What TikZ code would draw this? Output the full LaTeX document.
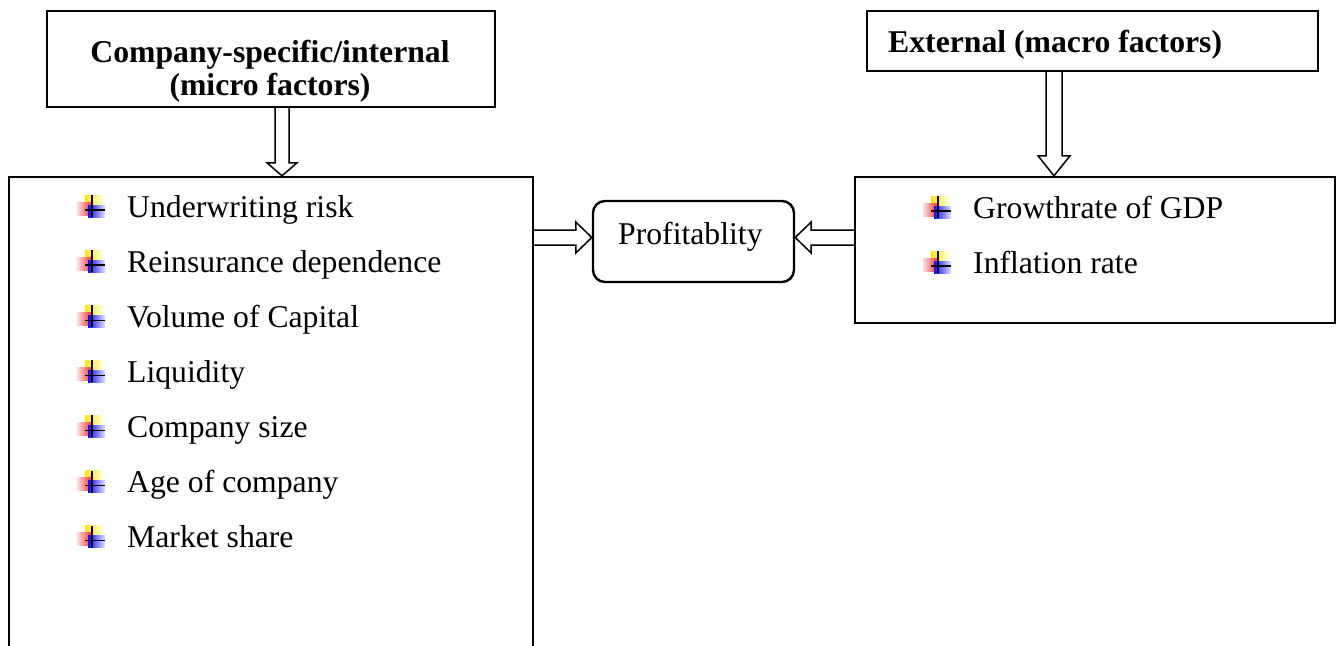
\documentclass[tikz,border=0pt]{standalone}
\usepackage{fontspec}
\setmainfont{Liberation Serif}
\usetikzlibrary{calc}
\begin{document}
\begin{tikzpicture}[x=1pt,y=-1pt,
 box/.style={draw, line width=2.4pt, inner sep=0pt},
 fatarrow/.style={draw, line width=1.5pt, fill=white, line join=miter},
 item/.style={anchor=base west, inner sep=0pt, font=\fontsize{31.7}{38}\selectfont},
 ttl/.style={anchor=base, inner sep=0pt, font=\fontsize{31.7}{38}\selectfont\bfseries},
 pics/bul/.style={code={
   \shade[left color=yellow!80!orange, right color=yellow!12] (-7,-22) rectangle (11,-9);
   \shade[left color=red!12, right color=red!85] (-15,-15) rectangle (0,-2);
   \shade[left color=blue!95, right color=blue!12] (-4,-12) rectangle (13,0);
   \draw[line width=1.4pt] (0,-22) -- (0,0) (-7,-7) -- (13,-7);
 }}]
\clip (0,0) rectangle (1337,645);
\fill[white] (0,0) rectangle (1337,645);
% boxes
\node[box, minimum width=448, minimum height=96] (ltitle) at (271,59) {};
\node[box, minimum width=451, minimum height=60] (rtitle) at (1092.5,41) {};
\node[box, minimum width=524, minimum height=523] (lbox) at (271,438.5) {};
\node[box, minimum width=480, minimum height=146] (rbox) at (1095,250) {};
\node[box, rounded corners=12, minimum width=201, minimum height=81] (profit) at (693.5,241.5) {};
% titles
\node[ttl] (lt1) at (270,62) {Company-specific/internal};
\node[ttl] (lt2) at (270,95) {(micro factors)};
\node[ttl, anchor=base west] (rt1) at (888,52) {External (macro factors)};
\node[item] (ptext) at (618,244) {Profitablity};
% items
\foreach \t [count=\i from 0] in {Underwriting risk, Reinsurance dependence, Volume of Capital, Liquidity, Company size, Age of company, Market share}{
  \pgfmathsetmacro\yy{217+55.1*\i}
  \pic at (92,\yy) {bul};
  \node[item] (li\i) at (127,\yy) {\t};
}
\foreach \t [count=\i from 0] in {Growthrate of GDP, Inflation rate}{
  \pgfmathsetmacro\yy{218+55*\i}
  \pic at (938,\yy) {bul};
  \node[item] (ri\i) at (973,\yy) {\t};
}
% arrows
\coordinate (lx) at (282,0);
\coordinate (rx) at (1054,0);
\coordinate (hy) at (0,237.5);
\coordinate (s1) at (lx |- ltitle.south);
\coordinate (e1) at (lx |- lbox.north);
\draw[fatarrow] ($(s1)+(-7,0)$) -- ($(e1)+(-7,-13)$) -- ++(-8,0) -- (e1) -- ++(15,-13) -- ++(-8,0) -- ($(s1)+(7,0)$);
\coordinate (s2) at (rx |- rtitle.south);
\coordinate (e2) at (rx |- rbox.north);
\draw[fatarrow] ($(s2)+(-8,0)$) -- ($(e2)+(-8,-20)$) -- ++(-8,0) -- (e2) -- ++(16,-20) -- ++(-8,0) -- ($(s2)+(8,0)$);
\coordinate (s3) at (lbox.east |- hy);
\coordinate (e3) at (profit.west |- hy);
\draw[fatarrow] ($(s3)+(0,-7.5)$) -- ($(e3)+(-16,-7.5)$) -- ++(0,-8) -- (e3) -- ++(-16,15.5) -- ++(0,-8) -- ($(s3)+(0,7.5)$);
\coordinate (s4) at (rbox.west |- hy);
\coordinate (e4) at (profit.east |- hy);
\draw[fatarrow] ($(s4)+(0,-7.5)$) -- ($(e4)+(16,-7.5)$) -- ++(0,-8) -- (e4) -- ++(16,15.5) -- ++(0,-8) -- ($(s4)+(0,7.5)$);
\end{tikzpicture}
\end{document}
